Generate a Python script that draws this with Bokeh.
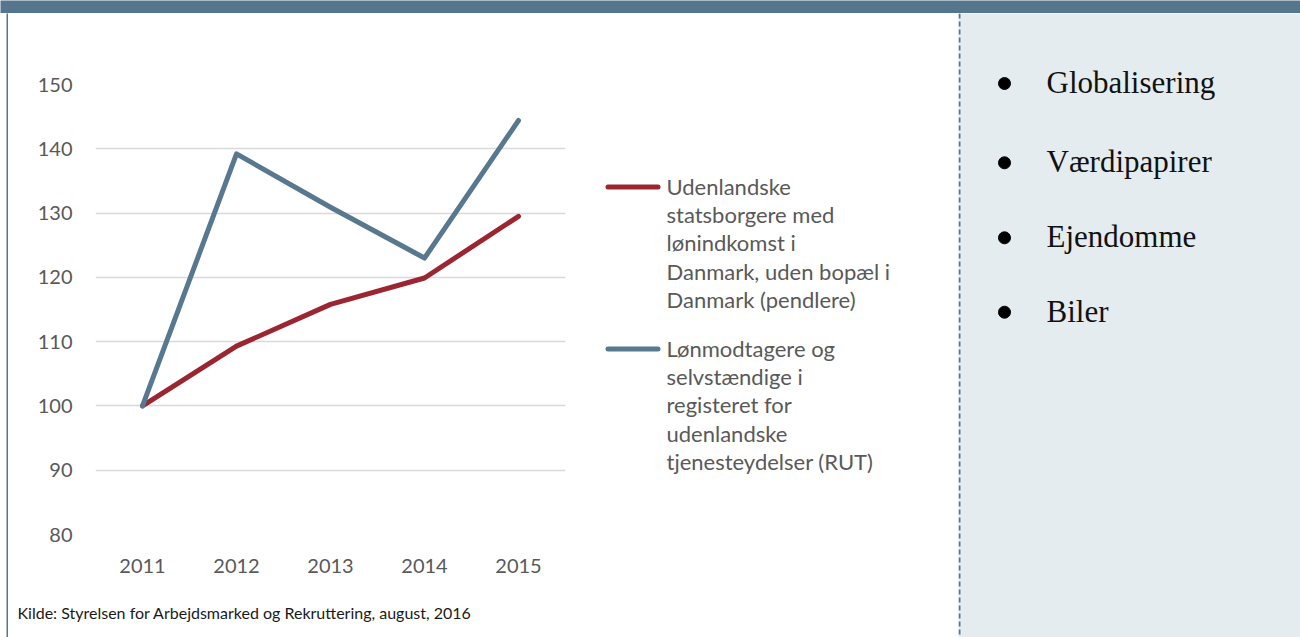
from bokeh.plotting import figure
from bokeh.models import (FactorRange, Range1d, FixedTicker, Span)
from bokeh.layouts import row, column
from bokeh.core.properties import value
from bokeh.embed import file_html
from bokeh.resources import INLINE

# ---------------- data ----------------
years = ["2011", "2012", "2013", "2014", "2015"]
pendlere = [100, 109.3, 115.8, 119.9, 129.5]
rut = [100, 139.2, 130.9, 123.0, 144.4]
y_ticks = [80, 90, 100, 110, 120, 130, 140, 150]

legend_pendlere = ["Udenlandske", "statsborgere med", "lønindkomst i",
                   "Danmark, uden bopæl i", "Danmark (pendlere)"]
legend_rut = ["Lønmodtagere og", "selvstændige i", "registeret for",
              "udenlandske", "tjenesteydelser (RUT)"]
bullets = ["Globalisering", "Værdipapirer", "Ejendomme", "Biler"]
source_text = ["Kilde: Styrelsen for Arbejdsmarked og Rekruttering, august, 2016"]

# ---------------- styles ----------------
RED = "#9b2530"
BLUE = "#58788f"
FRAME = "#56768e"
PANEL = "#e4ecef"
GRID = "#d9d9d9"
TXT = "#595959"
SANS = "Lato"
SERIF = "Liberation Serif"

ROW_H = 624
CHART_H = 590
FOOT_H = ROW_H - CHART_H
NOB = dict(min_border=0, min_border_left=0, min_border_right=0,
           min_border_top=0, min_border_bottom=0)


def bare(width, height, bg, **kw):
    fig = figure(width=width, height=height, output_backend="svg", toolbar_location=None,
                 x_axis_location=None, y_axis_location=None, title=None, **NOB, **kw)
    fig.background_fill_color = bg
    fig.border_fill_color = bg
    fig.outline_line_color = None
    fig.xgrid.visible = False
    fig.ygrid.visible = False
    return fig


header = bare(1300, 13, FRAME, x_range=Range1d(0, 1), y_range=Range1d(0, 1))
spacer = bare(6, ROW_H, "white", x_range=Range1d(0, 1), y_range=Range1d(0, 1))
lborder = bare(2, ROW_H, FRAME, x_range=Range1d(0, 1), y_range=Range1d(0, 1))

# ---------------- chart ----------------
p = figure(x_range=FactorRange(factors=years), y_range=Range1d(80, 150),
           width=582, height=CHART_H, output_backend="svg", toolbar_location=None,
           title=None,
           min_border_left=87, min_border_right=25, min_border_top=71,
           min_border_bottom=CHART_H - 71 - 450)
p.outline_line_color = None
p.background_fill_color = "white"
p.border_fill_color = "white"
p.xgrid.visible = False
p.ygrid.grid_line_color = GRID
p.ygrid.grid_line_width = 1.5

p.yaxis.ticker = FixedTicker(ticks=y_ticks)
for ax in (p.xaxis[0], p.yaxis[0]):
    ax.axis_line_color = None
    ax.major_tick_line_color = None
    ax.minor_tick_line_color = None
    ax.major_tick_out = 0
    ax.major_tick_in = 0
    ax.major_label_text_font = SANS
    ax.major_label_text_font_size = "20px"
    ax.major_label_text_color = TXT
p.yaxis.major_label_standoff = 23
p.xaxis.major_label_standoff = 24

p.line(years, pendlere, line_color=RED, line_width=5, line_cap="round", line_join="round")
p.line(years, rut, line_color=BLUE, line_width=5, line_cap="round", line_join="round")

# ---------------- footer with source ----------------
foot = bare(582, FOOT_H, "white", x_range=Range1d(0, 582), y_range=Range1d(FOOT_H, 0))
foot.text(x=[9], y=[9], text=source_text, text_font=value(SANS), text_font_size="16px",
          text_color="#1a1a1a", text_baseline="middle", text_align="left")

# ---------------- legend area (y = pixels from top of row) ----------------
lg = bare(368, ROW_H, "white", x_range=Range1d(0, 368), y_range=Range1d(ROW_H, 0))

LINE_H = 28.4
for lines, color, y0 in ((legend_pendlere, RED, 173.5), (legend_rut, BLUE, 335.5)):
    lg.line([17.5, 67.5], [y0, y0], line_color=color, line_width=5, line_cap="round")
    lg.text(x=[76] * len(lines), y=[y0 - 1 + i * LINE_H for i in range(len(lines))], text=lines,
            text_font=value(SANS), text_font_size="22px", text_color=TXT,
            text_baseline="middle", text_align="left")

# ---------------- right panel (y = pixels from top of row) ----------------
rp = bare(342, ROW_H, PANEL, x_range=Range1d(0, 342), y_range=Range1d(ROW_H, 0))
rp.add_layout(Span(location=1, dimension="height", line_color=FRAME, line_width=2,
                   line_dash="5 3"))

bullet_y = [70, 149.3, 224.3, 298.7]
rp.scatter(x=[46] * len(bullets), y=bullet_y, size=12,
           marker="circle", fill_color="black", line_color="black")
rp.text(x=[88] * len(bullets), y=[b - 1 for b in bullet_y], text=bullets,
        text_font=value(SERIF), text_font_size="31px", text_color="#111111",
        text_baseline="middle", text_align="left")

layout = column(header,
                row(spacer, lborder,
                    column(column(p), column(foot), spacing=0),
                    column(lg), column(rp), spacing=0),
                spacing=0)

with open("out.html", "w") as f:
    f.write(file_html(layout, INLINE))
